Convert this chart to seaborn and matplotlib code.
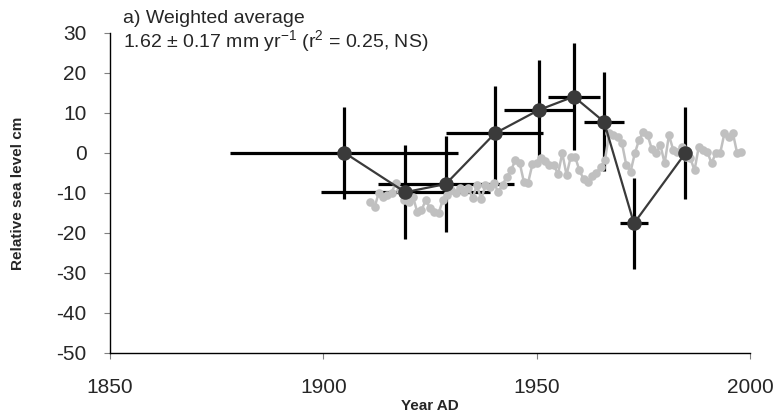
import numpy as np
import pandas as pd
import seaborn as sns
import matplotlib
matplotlib.use("Agg")
import matplotlib.pyplot as plt

# Binned weighted-average sea level with age and height uncertainties
bin_years = [1904.9, 1919.2, 1928.7, 1940.2, 1950.5, 1958.7, 1965.8, 1972.8, 1984.8]
bin_level = [0.1, -9.8, -7.75, 4.9, 10.75, 14.1, 7.8, -17.6, -0.1]
bin_year_err = [26.7, 19.8, 15.9, 11.4, 8.1, 6.05, 4.6, 3.3, 0.0]
bin_level_err = [11.5, 11.7, 12.0, 11.9, 12.5, 13.3, 12.4, 11.3, 11.5]

# Annual tide-gauge record
gauge_years = list(range(1911, 1999))
gauge_level = [
    -12.2, -13.6, -9.9, -10.9, -10.5, -9.9, -7.4, -9.3, -11.8, -12.2,
    -10.9, -14.7, -14.3, -11.8, -13.8, -14.7, -15.1, -11.8, -10.5, -9.3,
    -10.1, -8.8, -9.7, -8.8, -11.3, -8.0, -11.6, -8.0, -8.4, -7.6,
    -9.7, -8.0, -5.9, -4.3, -1.8, -2.4, -7.2, -7.4, -2.8, -2.4,
    -1.3, -1.9, -3.0, -3.0, -5.3, 0.0, -5.5, -0.9, -0.9, -4.3,
    -6.5, -7.2, -5.7, -5.1, -3.4, -1.8, 4.9, 4.5, 4.1, 2.4,
    -3.0, -4.7, -0.1, 3.3, 5.3, 4.5, 0.9, -0.1, 2.0, -2.6,
    4.5, 0.8, 0.3, 1.6, -0.9, -1.3, -4.3, 1.6, 0.8, 0.3,
    -2.6, 0.1, -0.1, 4.9, 4.1, 4.9, -0.1, 0.3,
]

x_ticks = [1850, 1900, 1950, 2000]
y_ticks = [-50, -40, -30, -20, -10, 0, 10, 20, 30]

sns.set_style("white")
plt.rcParams["font.family"] = ["Liberation Sans", "DejaVu Sans"]
plt.rcParams["mathtext.fontset"] = "custom"
plt.rcParams["mathtext.rm"] = "Liberation Sans"
plt.rcParams["mathtext.default"] = "regular"
plt.rcParams["axes.unicode_minus"] = False

fig = plt.figure(figsize=(7.74, 4.16), dpi=100)
ax = fig.add_axes([110 / 774, 1 - 353 / 416, 640 / 774, 320 / 416])

bins = pd.DataFrame({"year": bin_years, "level": bin_level})
gauge = pd.DataFrame({"year": gauge_years, "level": gauge_level})

# Error crosses behind everything
ax.errorbar(bin_years, bin_level, xerr=bin_year_err, yerr=bin_level_err,
            fmt="none", ecolor="black", elinewidth=2.3, capsize=0, zorder=1)

sns.lineplot(data=gauge, x="year", y="level", color="#c0c0c0", linewidth=1.8,
             marker="o", markersize=6.2, markeredgewidth=0, ax=ax, zorder=2)

sns.lineplot(data=bins, x="year", y="level", color="#3a3a3a", linewidth=1.6,
             marker="o", markersize=10.5, markeredgewidth=0, sort=False,
             ax=ax, zorder=3)

ax.set_xlim(1850, 2000)
ax.set_ylim(-50, 30)
ax.set_xticks(x_ticks)
ax.set_yticks(y_ticks)
ax.set_xticklabels([str(v) for v in x_ticks])
ax.set_yticklabels([str(v) for v in y_ticks])

for side in ("top", "right"):
    ax.spines[side].set_visible(False)
for side in ("left", "bottom"):
    ax.spines[side].set_color("black")
    ax.spines[side].set_linewidth(1.0)

ax.tick_params(axis="y", direction="out", length=4, width=0.8, color="#808080",
               pad=13, labelsize=15, left=True)
ax.tick_params(axis="x", direction="out", length=4, width=0.8, color="#808080",
               pad=14, labelsize=15, bottom=True)

ax.set_xlabel("Year AD", fontsize=11, fontweight="bold", va="center")
ax.xaxis.set_label_coords(0.5, -0.165)
ax.set_ylabel("Relative sea level cm", fontsize=11, fontweight="bold", va="center")
ax.yaxis.set_label_coords(-0.144, 0.5)

fig.text(123 / 774, 1 - 23 / 416, "a) Weighted average", fontsize=14,
         ha="left", va="baseline")
fig.text(123 / 774, 1 - 47 / 416,
         r"1.62 ± 0.17 mm yr$^{-1}$ (r$^{2}$ = 0.25, NS)", fontsize=14,
         ha="left", va="baseline")

fig.savefig("out.png", dpi=100)
